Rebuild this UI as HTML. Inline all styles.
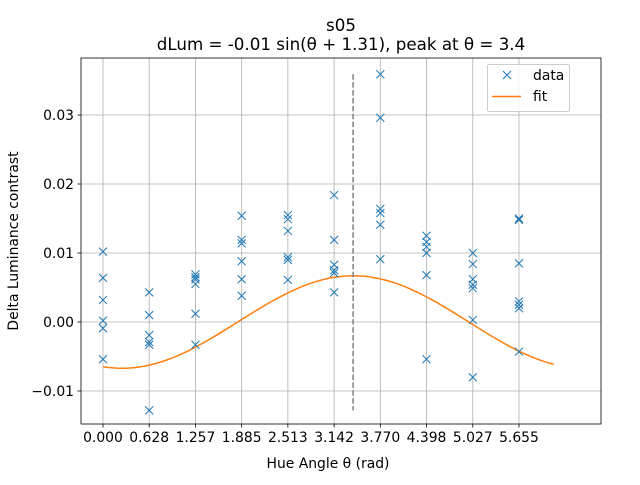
<!DOCTYPE html>
<html><head><meta charset="utf-8"><style>
body{margin:0;background:#fff}
svg{font-family:"DejaVu Sans","Liberation Sans",sans-serif}
</style></head><body>
<svg id="c" width="640" height="480"></svg>
<script>
const xCats=[0,0.628,1.257,1.885,2.513,3.142,3.770,4.398,5.027,5.655];
const xTickLabels=["0.000","0.628","1.257","1.885","2.513","3.142","3.770","4.398","5.027","5.655"];
const yTicks=[-0.01,0,0.01,0.02,0.03];
const yTickLabels=["−0.01","0.00","0.01","0.02","0.03"];
const dataVals=[
[0.0102,0.0064,0.0032,0.0002,-0.0009,-0.0054],
[0.0043,0.0010,-0.0019,-0.0029,-0.0033,-0.0128],
[0.0069,0.0065,0.0062,0.0055,0.0012,-0.0033],
[0.0154,0.0119,0.0114,0.0088,0.0062,0.0038],
[0.0155,0.0149,0.0132,0.0094,0.0090,0.0061],
[0.0184,0.0119,0.0083,0.0075,0.0071,0.0043],
[0.0359,0.0296,0.0164,0.0158,0.0141,0.0091],
[0.0125,0.0116,0.0109,0.0100,0.0068,-0.0054],
[0.0100,0.0084,0.0062,0.0054,0.0049,0.0003,-0.0080],
[0.0150,0.0148,0.0085,0.0030,0.0025,0.0020,-0.0043]];
const fitAmp=-0.0067, fitPhase=1.31, fitOffset=0.0, peakTheta=3.4;
const NS="http://www.w3.org/2000/svg";
const svg=document.getElementById('c');
const L=81,R=601,T=58,B=424;
const xmin=-0.299,xmax=6.77,ymin=-0.01478,ymax=0.03826;
const X=v=>L+(v-xmin)/(xmax-xmin)*(R-L);
const Y=v=>B-(v-ymin)/(ymax-ymin)*(B-T);
function mk(t,a,p){const e=document.createElementNS(NS,t);for(const k in a)e.setAttribute(k,a[k]);(p||svg).appendChild(e);return e;}
xCats.forEach((v,i)=>{const l=mk('line',{x1:X(v),x2:X(v),y1:T,y2:B,stroke:'#b0b0b0','stroke-width':0.8});


mk('line',{x1:X(v),x2:X(v),y1:B,y2:B+3.5,stroke:'#000','stroke-width':0.8});
const t=mk('text',{x:X(v),y:B+18,'text-anchor':'middle','font-size':13.9});t.textContent=xTickLabels[i];

});
yTicks.forEach((v,i)=>{const l=mk('line',{x1:L,x2:R,y1:Y(v),y2:Y(v),stroke:'#b0b0b0','stroke-width':0.8});


mk('line',{x1:L-3.5,x2:L,y1:Y(v),y2:Y(v),stroke:'#000','stroke-width':0.8});
const t=mk('text',{x:L-7,y:Y(v)+5,'text-anchor':'end','font-size':13.9});t.textContent=yTickLabels[i];

});
let pts=[];for(let i=0;i<=100;i++){const th=i/100*(2*Math.PI*39/40);pts.push(X(th).toFixed(2)+','+Y(fitAmp*Math.sin(th+fitPhase)+fitOffset).toFixed(2));}
const fl=mk('polyline',{points:pts.join(' '),fill:'none',stroke:'#ff7f0e','stroke-width':1.5});


const pk=mk('line',{x1:X(peakTheta),x2:X(peakTheta),y1:Y(0.0359),y2:Y(-0.0128),stroke:'#808080','stroke-width':1.5,'stroke-dasharray':'5.5,2.4'});


dataVals.forEach((arr,i)=>arr.forEach(v=>{const x=X(xCats[i]),y=Y(v);
const p=mk('path',{d:`M${x-4},${y-4}L${x+4},${y+4}M${x-4},${y+4}L${x+4},${y-4}`,stroke:'#1f77b4','stroke-width':1});

}));
mk('rect',{x:L,y:T,width:R-L,height:B-T,fill:'none',stroke:'#000','stroke-width':0.8});
</script>
<svg width="640" height="480" style="position:absolute;left:0;top:0" font-family="DejaVu Sans, Liberation Sans, sans-serif">
<text x="341" y="31" text-anchor="middle" font-size="16.7">s05</text>
<text x="341" y="50" text-anchor="middle" font-size="16.7">dLum = -0.01 sin(θ + 1.31), peak at θ = 3.4</text>
<text x="328" y="468" text-anchor="middle" font-size="13.9">Hue Angle θ (rad)</text>
<text transform="translate(18,241) rotate(-90)" text-anchor="middle" font-size="13.9">Delta Luminance contrast</text>
<g>
<rect x="487.5" y="64.5" width="82" height="47" rx="2" fill="#fff" fill-opacity="0.8" stroke="#ccc"/>
<path d="M503,71L511,79M503,79L511,71" stroke="#1f77b4"/>
<text x="533" y="80" font-size="13.9">data</text>
<line x1="492" x2="521" y1="96.5" y2="96.5" stroke="#ff7f0e" stroke-width="1.5"/>
<text x="533" y="101" font-size="13.9">fit</text>
</g>
</svg>
</body></html>
